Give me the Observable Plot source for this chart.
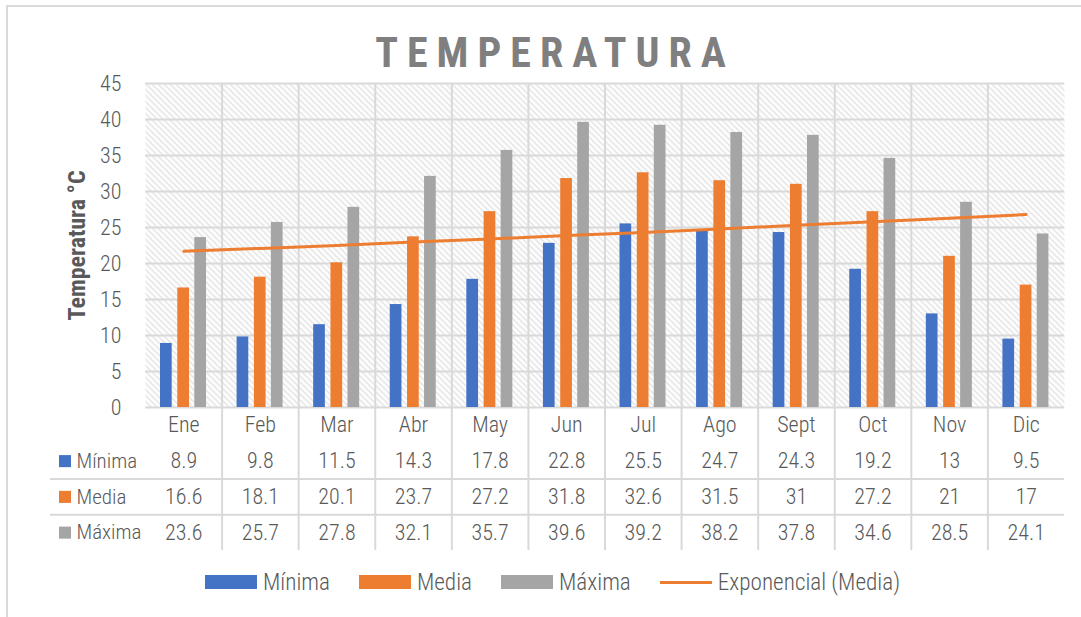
<!DOCTYPE html>
<html><head><meta charset="utf-8">
<script src="https://cdn.jsdelivr.net/npm/d3@7"></script>
<script src="https://cdn.jsdelivr.net/npm/@observablehq/plot@0.6"></script>
<style>
body{margin:0;background:#fff;font-family:'Noto Sans Condensed','Roboto Condensed','Liberation Sans Narrow','Noto Sans',sans-serif;font-stretch:condensed;font-weight:300;color:#595959;}
#wrap{position:relative;width:1081px;height:617px;overflow:hidden;}
#border{position:absolute;left:6px;top:5px;width:1200px;height:700px;border:2px solid #d9d9d9;box-sizing:border-box}
#title{position:absolute;left:0;width:1101px;top:32px;text-align:center;font-size:42px;font-weight:bold;letter-spacing:9px;padding-left:9px;box-sizing:border-box;color:#7f7f7f;line-height:42px}
#chart{position:absolute;left:0;top:70px}
#table{position:absolute;left:0;top:407px}
#legend{position:absolute;left:205px;top:568px;height:28px;display:flex;align-items:center;font-size:23.2px;line-height:28px;white-space:nowrap}
#legend .sw{display:inline-block;width:52px;height:14px;margin-right:6px}
#legend .ln{display:inline-block;width:52px;height:3px;margin-right:6px;background:#ED7D31}
#legend .it{display:flex;align-items:center;margin-right:29px}
</style></head>
<body>
<svg width="0" height="0" style="position:absolute"><defs>
<pattern id="hatch" patternUnits="userSpaceOnUse" width="6" height="6">
<rect width="6" height="6" fill="#fff"/>
<path d="M-1,-1 L7,7 M-1,5 L1,7 M5,-1 L7,1" stroke="#e0e0e0" stroke-width="1.4"/>
</pattern></defs></svg>
<div id="wrap">
<div id="border"></div>
<div id="title">TEMPERATURA</div>
<div id="chart"></div>
<div id="table"></div>
<div id="legend"></div>
</div>
<script>
const meses = ["Ene","Feb","Mar","Abr","May","Jun","Jul","Ago","Sept","Oct","Nov","Dic"];
const minima = [8.9,9.8,11.5,14.3,17.8,22.8,25.5,24.7,24.3,19.2,13,9.5];
const media = [16.6,18.1,20.1,23.7,27.2,31.8,32.6,31.5,31,27.2,21,17];
const maxima = [23.6,25.7,27.8,32.1,35.7,39.6,39.2,38.2,37.8,34.6,28.5,24.1];
const tendencia = [21.7,22.1,22.5,23.0,23.4,23.9,24.3,24.8,25.3,25.8,26.3,26.8];
const series = ["Mínima","Media","Máxima"];
const yTicks = [0,5,10,15,20,25,30,35,40,45];
const yLabel = "Temperatura °C";
const trendLabel = "Exponencial (Media)";

const FONT = "'Noto Sans Condensed','Roboto Condensed','Liberation Sans Narrow','Noto Sans',sans-serif";
const colores = ["#4472C4","#ED7D31","#A5A5A5"];
const valores = [minima, media, maxima];
const W = 1081, mL = 145, mR = 17;
const bw = (W - mL - mR) / meses.length;
const barW = 11.7, offs = [15, 32.3, 49.3];
const grid = "#d9d9d9";
const baseStyle = {fontFamily: FONT, fontSize: "22px", fontWeight: 300, fontStretch: "condensed", color: "#595959", background: "transparent", overflow: "visible"};

const chart = Plot.plot({
  width: W, height: 339, marginTop: 13, marginBottom: 2, marginLeft: mL, marginRight: mR,
  style: baseStyle,
  x: {type: "band", domain: meses, padding: 0, round: false, axis: null},
  y: {domain: [0, 45], axis: null},
  marks: [
    Plot.frame({fill: "url(#hatch)", stroke: null}),
    Plot.ruleY(yTicks, {stroke: grid, strokeWidth: 2}),
    Plot.ruleX(meses.slice(1), {x: d => d, dx: -bw / 2, stroke: grid, strokeWidth: 2}),
    ...valores.map((vals, k) => Plot.barY(meses, {
      x: d => d, y: (d, i) => vals[i], fill: colores[k],
      insetLeft: offs[k], insetRight: bw - offs[k] - barW
    })),
    Plot.lineY(meses, {x: d => d, y: (d, i) => tendencia[i], stroke: "#ED7D31", strokeWidth: 3}),
    Plot.axisY(yTicks, {tickSize: 0, tickPadding: 24, fontSize: 22, label: null, fill: "#595959"}),
    Plot.text([yLabel], {text: d => d, frameAnchor: "left", textAnchor: "middle", dx: -68, rotate: -90, fontWeight: "bold", fontSize: 24, fill: "#595959"})
  ]
});
document.getElementById("chart").append(chart);

const rows = ["mes", ...series];
const TH = 143, rh = TH / rows.length;
const table = Plot.plot({
  width: W, height: TH, marginTop: 0, marginBottom: 0, marginLeft: mL, marginRight: mR,
  style: baseStyle,
  x: {type: "band", domain: meses, padding: 0, round: false, axis: null},
  y: {type: "band", domain: rows, padding: 0, round: false, axis: null},
  marks: [
    Plot.ruleX(meses.slice(1), {x: d => d, dx: -bw / 2, stroke: grid, strokeWidth: 2}),
    Plot.ruleY(["Media", "Máxima"], {y: d => d, dy: -rh / 2, insetLeft: -95, stroke: grid, strokeWidth: 2}),
    Plot.text(meses, {x: d => d, y: () => "mes", text: d => d, fill: "#595959"}),
    ...valores.map((vals, k) => Plot.text(meses, {x: d => d, y: () => series[k], text: (d, i) => String(vals[i]), fill: "#595959"})),
    Plot.text(series, {y: d => d, text: d => d, frameAnchor: "left", dx: -69, textAnchor: "start", fontSize: 21, fill: "#595959"}),
    ...series.map((s, k) => Plot.dot([s], {y: d => d, frameAnchor: "left", dx: -80.5, symbol: "square", r: 6.8, fill: colores[k], stroke: null}))
  ]
});
document.getElementById("table").append(table);

const leg = document.getElementById("legend");
series.forEach((s, k) => {
  const it = document.createElement("div"); it.className = "it";
  const sw = document.createElement("span"); sw.className = "sw"; sw.style.background = colores[k];
  const t = document.createElement("span"); t.textContent = s;
  it.append(sw, t); leg.append(it);
});
{
  const it = document.createElement("div"); it.className = "it";
  const ln = document.createElement("span"); ln.className = "ln";
  const t = document.createElement("span"); t.textContent = trendLabel;
  it.append(ln, t); leg.append(it);
}
</script>
</body></html>
